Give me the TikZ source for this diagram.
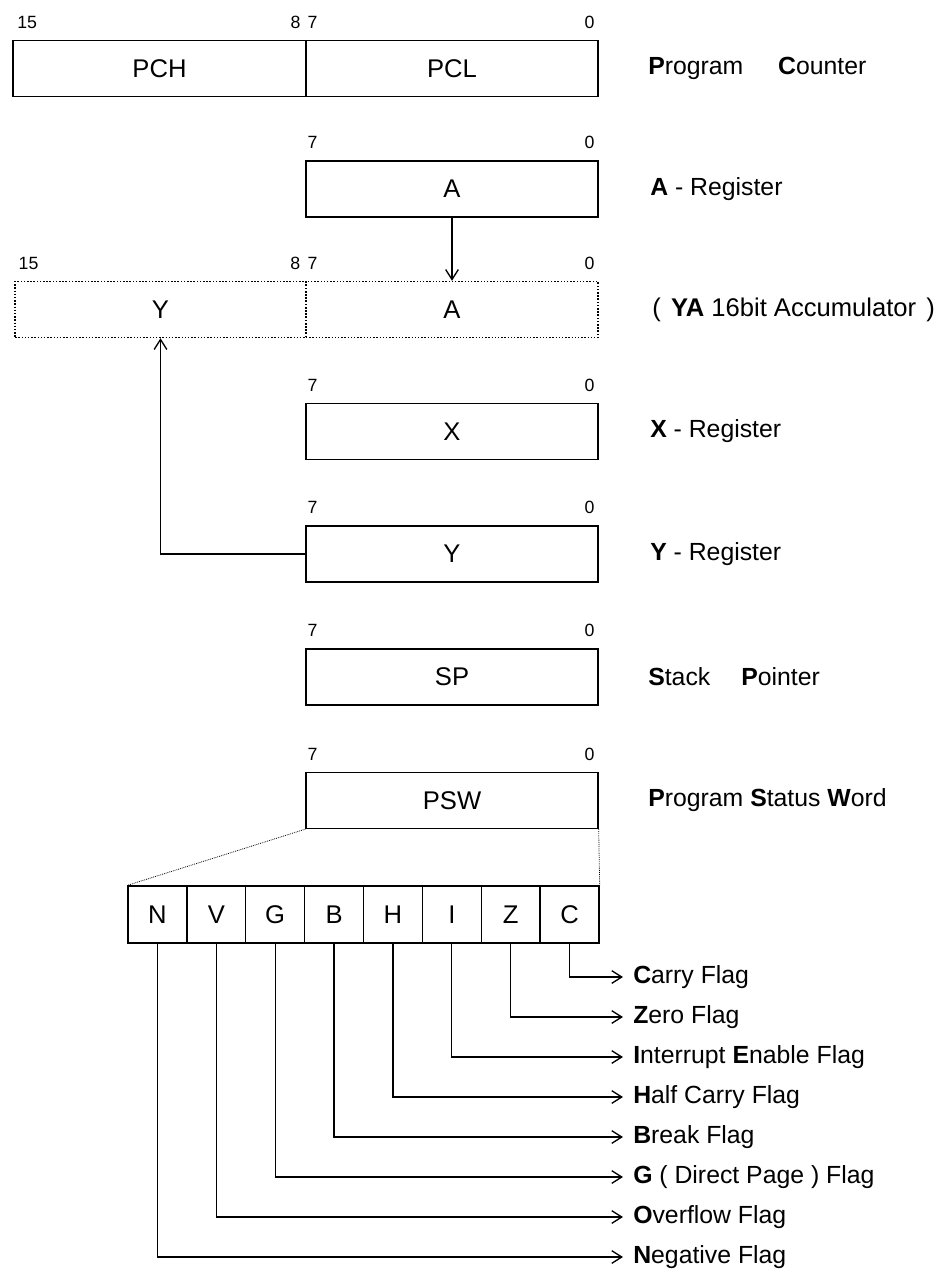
\documentclass[tikz,border=0pt]{standalone}
\usepackage{fontspec}
\setmainfont{Liberation Sans}
\usetikzlibrary{arrows.meta, positioning}
\tikzset{
  reg/.style={draw, line width=1pt, minimum width=219pt, minimum height=42pt, inner sep=0pt, font=\fontsize{19.2}{23}\selectfont},
  vreg/.style={reg, line width=1.1pt, dash pattern=on 1.1pt off 1.3pt},
  flagbox/.style={draw, line width=1pt, minimum width=44.16pt, minimum height=42.75pt, inner sep=0pt, font=\fontsize{19.2}{23}\selectfont},
  bitno/.style={inner sep=0pt, font=\fontsize{13.3}{16}\selectfont},
  desc/.style={anchor=west, inner sep=0pt, font=\fontsize{18.6}{22}\selectfont},
  arrow/.style={line width=1pt, -{Straight Barb[length=7.5pt, width=9.5pt, line width=1pt]}},
  zoomline/.style={line width=0.6pt, dash pattern=on 0.6pt off 0.8pt}
}
\begin{document}
\begin{tikzpicture}[x=0.75pt, y=-0.75pt]
\useasboundingbox (0,0) rectangle (946,1269);

% program counter
\node[reg, minimum width=219.75pt] (pch) at (159.5,68.5) {PCH};
\node[reg] (pcl) at (452,68.5) {PCL};
\node[bitno, anchor=base west] (pc15) at ([xshift=3.5pt, yshift=8.6pt]pch.north west) {15};
\node[bitno, anchor=base east] (pc8) at ([xshift=-4.5pt, yshift=8.6pt]pch.north east) {8};
\node[bitno, anchor=base west] (pc7) at ([xshift=1.5pt, yshift=8.6pt]pcl.north west) {7};
\node[bitno, anchor=base east] (pc0) at ([xshift=-3pt, yshift=8.6pt]pcl.north east) {0};
\node[desc] (pcdesc) at (648,68.5) {\textbf{P}rogram\hspace{1.4em}\textbf{C}ounter};

% 8 bit registers
\foreach \n/\t/\y in {regA/A/189, regX/X/431.5, regY/Y/554, regSP/SP/677, regPSW/PSW/800.5} {
  \node[reg] (\n) at (452,\y) {\t};
  \node[bitno, anchor=base west] (\n7) at ([xshift=1.5pt, yshift=8.6pt]\n.north west) {7};
  \node[bitno, anchor=base east] (\n0) at ([xshift=-3pt, yshift=8.6pt]\n.north east) {0};
}
\node[desc] (adesc) at (650,189) {\textbf{A} - Register};
\node[desc] (xdesc) at (650,431.5) {\textbf{X} - Register};
\node[desc] (ydesc) at (650,554) {\textbf{Y} - Register};
\node[desc] (spdesc) at (648,677) {\textbf{S}tack\hspace{1.25em}\textbf{P}ointer};
\node[desc] (pswdesc) at (648,800.5) {\textbf{P}rogram \textbf{S}tatus \textbf{W}ord};

% YA accumulator
\node[vreg, minimum width=218pt] (yah) at (160.5,309.5) {Y};
\node[vreg] (yal) at (452,309.5) {A};
\node[bitno, anchor=base west] (ya15) at ([xshift=3pt, yshift=8.6pt]yah.north west) {15};
\node[bitno, anchor=base east] (ya8) at ([xshift=-4.5pt, yshift=8.6pt]yah.north east) {8};
\node[bitno, anchor=base west] (ya7) at ([xshift=1.5pt, yshift=8.6pt]yal.north west) {7};
\node[bitno, anchor=base east] (ya0) at ([xshift=-3pt, yshift=8.6pt]yal.north east) {0};
\node[desc, font=\fontsize{19.2}{23}\selectfont] (yadesc) at (652,309.5) {(\hspace{0.4em}\textbf{YA} 16bit Accumulator\hspace{0.4em})};

\draw[arrow] (regA.south) -- (yal.north);
\draw[arrow] (regY.west) -| (yah.south);

% status word bits
\foreach \f [count=\i] in {N,V,G,B,H,I,Z,C}
  \node[flagbox] (f\f) at (128+58.875*\i-29.44,914.5) {\f};
\draw[zoomline] (regPSW.south west) -- (fN.north west);
\draw[zoomline] (regPSW.south east) -- (fC.north east);

\foreach \f/\t [count=\k] in {C/{\textbf{C}arry Flag}, Z/{\textbf{Z}ero Flag}, I/{\textbf{I}nterrupt \textbf{E}nable Flag}, H/{\textbf{H}alf Carry Flag}, B/{\textbf{B}reak Flag}, G/{\textbf{G} ( Direct Page ) Flag}, V/{\textbf{O}verflow Flag}, N/{\textbf{N}egative Flag}} {
  \node[desc] (d\f) at (633,937+40*\k) {\t};
  \draw[arrow] (f\f.south) |- ([xshift=-7.5pt]d\f.west);
}
\end{tikzpicture}
\end{document}
